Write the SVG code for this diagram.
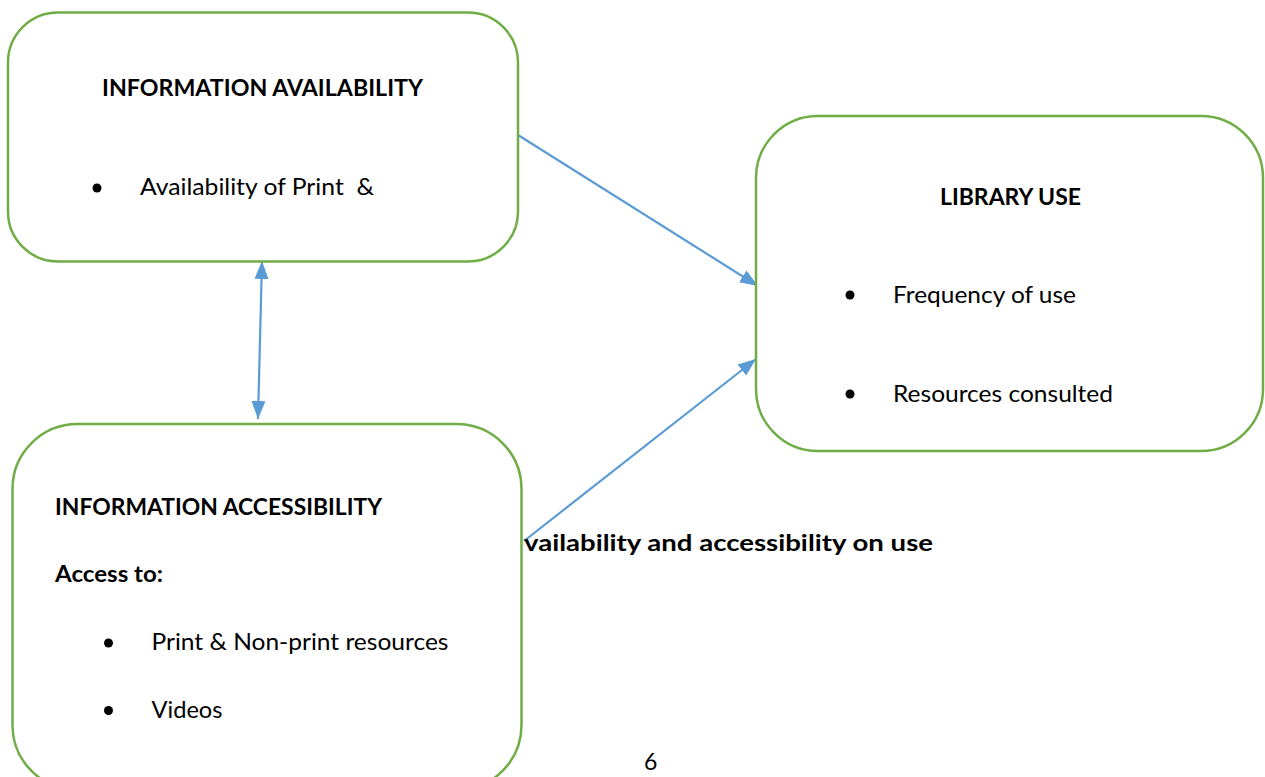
<svg xmlns="http://www.w3.org/2000/svg" width="1265" height="777" viewBox="0 0 1265 777">
<style>
.box{fill:#fff;stroke:#70AD47;stroke-width:2.5}
.t{font-family:Lato,"Liberation Sans",sans-serif;font-size:23px;fill:#000}
.b{font-weight:bold}
.conn{stroke:#5B9BD5;stroke-width:2.2;fill:none}
</style>
<defs>
<marker id="ah" markerUnits="userSpaceOnUse" markerWidth="20" markerHeight="16" refX="18" refY="8" orient="auto-start-reverse" viewBox="0 0 20 16">
<path d="M0,1 L18,8 L0,15 Z" fill="#5B9BD5"/>
</marker>
</defs>
<rect width="1265" height="777" fill="#fff"/>
<g id="connectors">
<line class="conn" x1="518" y1="135" x2="758" y2="286" marker-end="url(#ah)"/>
<line class="conn" x1="524" y1="541" x2="756" y2="359" marker-end="url(#ah)"/>
<line class="conn" x1="262" y1="261" x2="258" y2="419" marker-start="url(#ah)" marker-end="url(#ah)"/>
</g>
<g id="node-availability">
<rect class="box" x="8" y="12.5" width="510" height="249" rx="50" ry="50"/>
<text class="t b" x="102" y="96" textLength="321" lengthAdjust="spacingAndGlyphs">INFORMATION AVAILABILITY</text>
<circle cx="97" cy="188" r="4.5"/>
<text class="t" x="140" y="195" textLength="234" lengthAdjust="spacingAndGlyphs" xml:space="preserve">Availability of Print  &amp;</text>
</g>
<g id="node-library-use">
<rect class="box" x="756" y="116" width="507" height="335" rx="62" ry="62"/>
<text class="t b" x="940" y="205" textLength="141" lengthAdjust="spacingAndGlyphs">LIBRARY USE</text>
<circle cx="850" cy="295" r="4.5"/>
<text class="t" x="893" y="303" textLength="183" lengthAdjust="spacingAndGlyphs">Frequency of use</text>
<circle cx="850" cy="394" r="4.5"/>
<text class="t" x="893" y="402" textLength="220" lengthAdjust="spacingAndGlyphs">Resources consulted</text>
</g>
<g id="node-accessibility">
<rect class="box" x="12.5" y="424" width="509" height="366" rx="65" ry="65"/>
<text class="t b" x="55" y="515" textLength="327" lengthAdjust="spacingAndGlyphs">INFORMATION ACCESSIBILITY</text>
<text class="t b" x="55" y="582" textLength="108" lengthAdjust="spacingAndGlyphs">Access to:</text>
<circle cx="108.5" cy="643" r="4.5"/>
<text class="t" x="151.5" y="650" textLength="297" lengthAdjust="spacingAndGlyphs">Print &amp; Non-print resources</text>
<circle cx="108.5" cy="710.5" r="4.5"/>
<text class="t" x="151.5" y="717.5" textLength="71" lengthAdjust="spacingAndGlyphs">Videos</text>
</g>
<text class="t b" x="524" y="551" textLength="409" lengthAdjust="spacingAndGlyphs">vailability and accessibility on use</text>
<text class="t" x="644" y="770">6</text>
</svg>
